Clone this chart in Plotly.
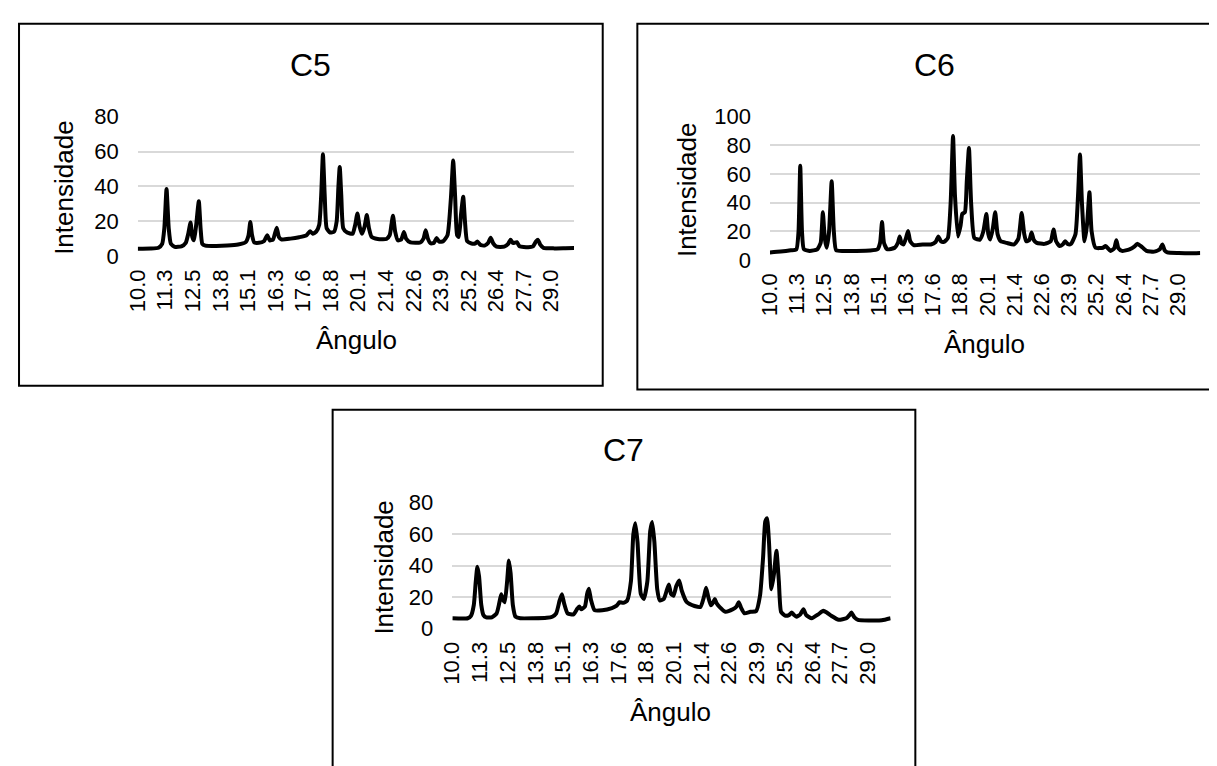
import plotly.graph_objects as go

# ---------------- data ----------------
tick_labels = ["10.0", "11.3", "12.5", "13.8", "15.1", "16.3", "17.6", "18.8",
               "20.1", "21.4", "22.6", "23.9", "25.2", "26.4", "27.7", "29.0"]
tick_step = 1.2638
tick_start = 10.0

c5_x = [10.0, 10.6, 10.95, 11.12, 11.22, 11.32, 11.42, 11.52, 11.7, 12.0, 12.2, 12.32, 12.42, 12.5, 12.58,
        12.68, 12.8, 12.88, 12.96, 13.1, 13.6, 14.1, 14.6, 14.95, 15.08, 15.16, 15.24, 15.34, 15.55, 15.78,
        15.94, 16.05, 16.2, 16.37, 16.47, 16.6, 17.0, 17.4, 17.72, 17.9, 18.02, 18.18, 18.32, 18.41, 18.49,
        18.57, 18.66, 18.82, 19.0, 19.12, 19.2, 19.26, 19.33, 19.42, 19.6, 19.85, 19.97, 20.07, 20.17, 20.28,
        20.4, 20.5, 20.6, 20.72, 21.0, 21.4, 21.55, 21.63, 21.7, 21.8, 21.92, 22.08, 22.2, 22.3, 22.5,
        22.95, 23.1, 23.2, 23.3, 23.42, 23.58, 23.7, 23.82, 24.0, 24.2, 24.36, 24.46, 24.55, 24.64, 24.72,
        24.82, 24.92, 25.0, 25.1, 25.3, 25.48, 25.57, 25.7, 25.9, 26.06, 26.18, 26.3, 26.45, 26.8, 26.98,
        27.09, 27.2, 27.38, 27.5, 27.9, 28.12, 28.26, 28.35, 28.45, 28.6, 29.1, 29.6, 30.0]
c5_y = [4.2, 4.3, 4.8, 7, 16, 38.5, 16, 7, 5.3, 5.5, 7.5, 13, 19.2, 11, 9,
        18, 31.5, 16, 7, 6, 5.8, 6, 6.6, 8, 12, 19.5, 12, 7.8, 7.6, 8.5,
        12, 9, 9.5, 16.3, 11, 9.5, 10, 10.8, 11.8, 14.2, 12.8, 14, 18, 35, 58.5,
        35, 16, 13.5, 14, 20, 40, 51.2, 35, 16, 13.5, 12.8, 18, 24.5, 17, 12.8,
        17, 23.5, 16, 11, 9.8, 9.8, 12, 18, 23.2, 14, 9, 9.5, 13.8, 10, 7.8,
        7.8, 10, 14.8, 10, 7.3, 7.6, 10.3, 8.2, 8.5, 12, 34, 54.8, 34, 12, 11,
        24, 34, 20, 8.5, 7.2, 7.3, 8.4, 6.5, 6, 7.5, 10.5, 7.2, 5.4, 5.4, 7,
        9.3, 7.5, 8, 5.6, 5.1, 5.6, 8.5, 9.3, 6.5, 4.7, 4.4, 4.5, 4.6]

c6_x = [10.0, 10.5, 10.97, 11.23, 11.33, 11.41, 11.49, 11.58, 11.85, 12.2, 12.36, 12.46, 12.55, 12.64, 12.75,
        12.87, 12.97, 13.08, 13.5, 14.0, 14.66, 15.0, 15.12, 15.21, 15.3, 15.45, 15.8, 15.95, 16.03, 16.12,
        16.21, 16.32, 16.42, 16.52, 16.69, 17.1, 17.48, 17.7, 17.83, 17.95, 18.09, 18.27, 18.4, 18.51, 18.6,
        18.74, 18.86, 18.94, 19.06, 19.15, 19.25, 19.35, 19.5, 19.76, 19.92, 20.06, 20.15, 20.24, 20.36, 20.47,
        20.58, 20.73, 21.0, 21.35, 21.55, 21.7, 21.82, 21.91, 22.06, 22.16, 22.26, 22.4, 22.76, 23.05, 23.18,
        23.3, 23.46, 23.62, 23.72, 23.85, 23.99, 24.2, 24.32, 24.41, 24.5, 24.62, 24.74, 24.85, 24.95, 25.13,
        25.48, 25.6, 25.83, 26.0, 26.1, 26.2, 26.36, 26.71, 26.95, 27.07, 27.24, 27.5, 27.86, 28.12, 28.24,
        28.35, 28.47, 29.0, 29.5, 30.0]
c6_y = [5.2, 5.8, 6.7, 7.4, 20, 65.8, 20, 7.4, 6.3, 7.4, 12, 33.3, 15, 8.5, 20,
        55, 20, 6.7, 6.3, 6.3, 6.5, 7.4, 12, 26.5, 12, 7.4, 8.5, 12, 16.4, 11.5,
        10.8, 15, 20.2, 13, 10.3, 10.8, 10.8, 12.5, 16.4, 13, 12.6, 15.3, 40, 86.5, 45,
        16.4, 24, 32.1, 33.3, 55, 78.2, 40, 15.3, 14.2, 20, 32.1, 18, 14.2, 22, 33.3,
        18, 13, 11.9, 10.8, 15, 32.8, 18, 13, 14, 19.1, 14, 11.9, 11.2, 13, 21.3,
        13, 9.7, 11, 13, 11, 11.2, 18, 45, 73.7, 40, 13, 25, 47.2, 20, 8.5,
        8.5, 9.7, 6.3, 8, 13.7, 8, 6.3, 7.4, 9.5, 11.2, 9.7, 6.3, 5.8, 7.5, 10.8,
        6.5, 5.2, 4.8, 4.6, 4.9]

c7_x = [10.0, 10.7, 10.85, 10.98, 11.07, 11.14, 11.22, 11.32, 11.42, 11.55, 11.8, 12.02, 12.14, 12.23, 12.32,
        12.39, 12.5, 12.58, 12.66, 12.76, 12.88, 13.1, 13.7, 14.3, 14.56, 14.74, 14.9, 15.0, 15.1, 15.26,
        15.53, 15.7, 15.79, 15.88, 16.05, 16.15, 16.23, 16.33, 16.49, 16.84, 17.28, 17.5, 17.63, 17.8, 17.98,
        18.15, 18.26, 18.35, 18.45, 18.6, 18.74, 18.9, 19.03, 19.12, 19.22, 19.35, 19.47, 19.65, 19.78, 19.88,
        19.98, 20.09, 20.22, 20.35, 20.47, 20.7, 21.05, 21.32, 21.48, 21.58, 21.68, 21.8, 21.92, 21.98, 22.06,
        22.19, 22.46, 22.8, 22.97, 23.07, 23.18, 23.33, 23.6, 23.86, 24.04, 24.18, 24.28, 24.36, 24.45, 24.56,
        24.68, 24.79, 24.9, 25.0, 25.18, 25.36, 25.49, 25.6, 25.7, 25.88, 26.02, 26.15, 26.4, 26.7, 26.93,
        27.1, 27.28, 27.63, 27.98, 28.12, 28.21, 28.35, 28.51, 29.0, 29.6, 30.0]
c7_y = [6.5, 6.5, 8, 15, 30, 39.2, 33, 15, 8.5, 7, 7.1, 9.6, 16, 21.8, 18,
        16.7, 30, 43.3, 35, 15, 7.5, 6.5, 6.5, 6.8, 7.5, 9.6, 18, 21.8, 16, 9.6,
        9, 12.5, 14, 12.2, 14, 22, 25.3, 18, 11.6, 11.6, 13, 14.5, 16.7, 16.3, 17.8,
        30, 60, 67, 55, 22, 18.8, 30, 62, 67.8, 55, 25, 17.8, 18.8, 24, 28,
        22, 20.8, 27, 30.6, 24, 16.7, 14.3, 13.7, 20, 25.9, 20, 14.7, 17, 18.8, 16,
        13.7, 10.6, 12.2, 14, 16.7, 13, 9.6, 10.6, 11, 20.8, 45, 68, 70.2, 55, 25,
        35, 49.4, 30, 10.6, 8.2, 8.5, 10.2, 8.5, 7.5, 9, 12.2, 8.5, 6.5, 9, 11.2,
        10, 8.2, 5.5, 6.5, 8.5, 10.2, 7, 5.5, 5.1, 5.2, 6.5]

titles = ["C5", "C6", "C7"]
y_max = [80, 100, 80]
x_title = "Ângulo"
y_title = "Intensidade"

# ---------------- layout helpers ----------------
W, H = 1217, 766
OFF = 8  # default page body margin in the exported html
FONT = "Liberation Sans, Arial, sans-serif"


def px(x):
    return (x - OFF) / W


def py(y):
    return 1 - (y - OFF) / H


panels = [
    dict(pl=126, pr=567, pt=108, pb=252, bl=6, bt=12, br=596, bb=386,
         tx=301, ty=55, axx=347, axy=339, ayx=52),
    dict(pl=765, pr=1200, pt=108, pb=256, bl=631, bt=12, br=1240, bb=390,
         tx=931, ty=55, axx=982, axy=343, ayx=681),
    dict(pl=444, pr=887, pt=507, pb=637, bl=323, bt=411, br=912, bb=800,
         tx=617, ty=453, axx=665, axy=723, ayx=374),
]

series = [(c5_x, c5_y), (c6_x, c6_y), (c7_x, c7_y)]
tickvals = [tick_start + i * tick_step for i in range(len(tick_labels))]

fig = go.Figure()
shapes = []
annotations = []
layout = {}

for i, (p, (sx, sy)) in enumerate(zip(panels, series)):
    n = "" if i == 0 else str(i + 1)
    fig.add_trace(go.Scatter(x=sx, y=sy, mode="lines",
                             line=dict(color="black", width=4, shape="spline", smoothing=0.5),
                             xaxis="x" + n, yaxis="y" + n, showlegend=False,
                             hoverinfo="skip"))
    layout["xaxis" + n] = dict(
        domain=[px(p["pl"]), px(p["pr"])], anchor="y" + n, range=[10, 30],
        tickmode="array", tickvals=tickvals, ticktext=tick_labels,
        tickangle=-90, showgrid=False, zeroline=False, showline=False,
        ticks="", ticklabelstandoff=8,
        tickfont=dict(family=FONT, size=22, color="black"))
    layout["yaxis" + n] = dict(
        domain=[py(p["pb"]), py(p["pt"])], anchor="x" + n, range=[0, y_max[i]],
        dtick=20, tick0=0, showgrid=True, gridcolor="#d9d9d9", gridwidth=1.6,
        zeroline=False, showline=False, ticks="", ticklabelstandoff=18,
        tickfont=dict(family=FONT, size=22, color="black"))
    shapes.append(dict(type="rect", xref="paper", yref="paper",
                       x0=px(p["bl"]), x1=px(p["br"]), y0=py(p["bb"]), y1=py(p["bt"]),
                       line=dict(color="black", width=2), fillcolor="rgba(0,0,0,0)",
                       layer="above"))
    annotations.append(dict(text=titles[i], x=px(p["tx"]), y=py(p["ty"]), xref="paper",
                            yref="paper", showarrow=False, xanchor="center", yanchor="middle",
                            font=dict(family=FONT, size=32, color="black")))
    annotations.append(dict(text=x_title, x=px(p["axx"]), y=py(p["axy"]), xref="paper",
                            yref="paper", showarrow=False, xanchor="center", yanchor="middle",
                            font=dict(family=FONT, size=26, color="black")))
    annotations.append(dict(text=y_title, x=px(p["ayx"]), y=py((p["pt"] + p["pb"]) / 2 + 2),
                            xref="paper", yref="paper", showarrow=False, textangle=-90,
                            xanchor="center", yanchor="middle",
                            font=dict(family=FONT, size=26, color="black")))

fig.update_layout(
    width=W, height=H, autosize=False,
    margin=dict(l=0, r=0, t=0, b=0),
    paper_bgcolor="white", plot_bgcolor="white",
    shapes=shapes, annotations=annotations,
    **layout)

fig.write_html("out.html")
